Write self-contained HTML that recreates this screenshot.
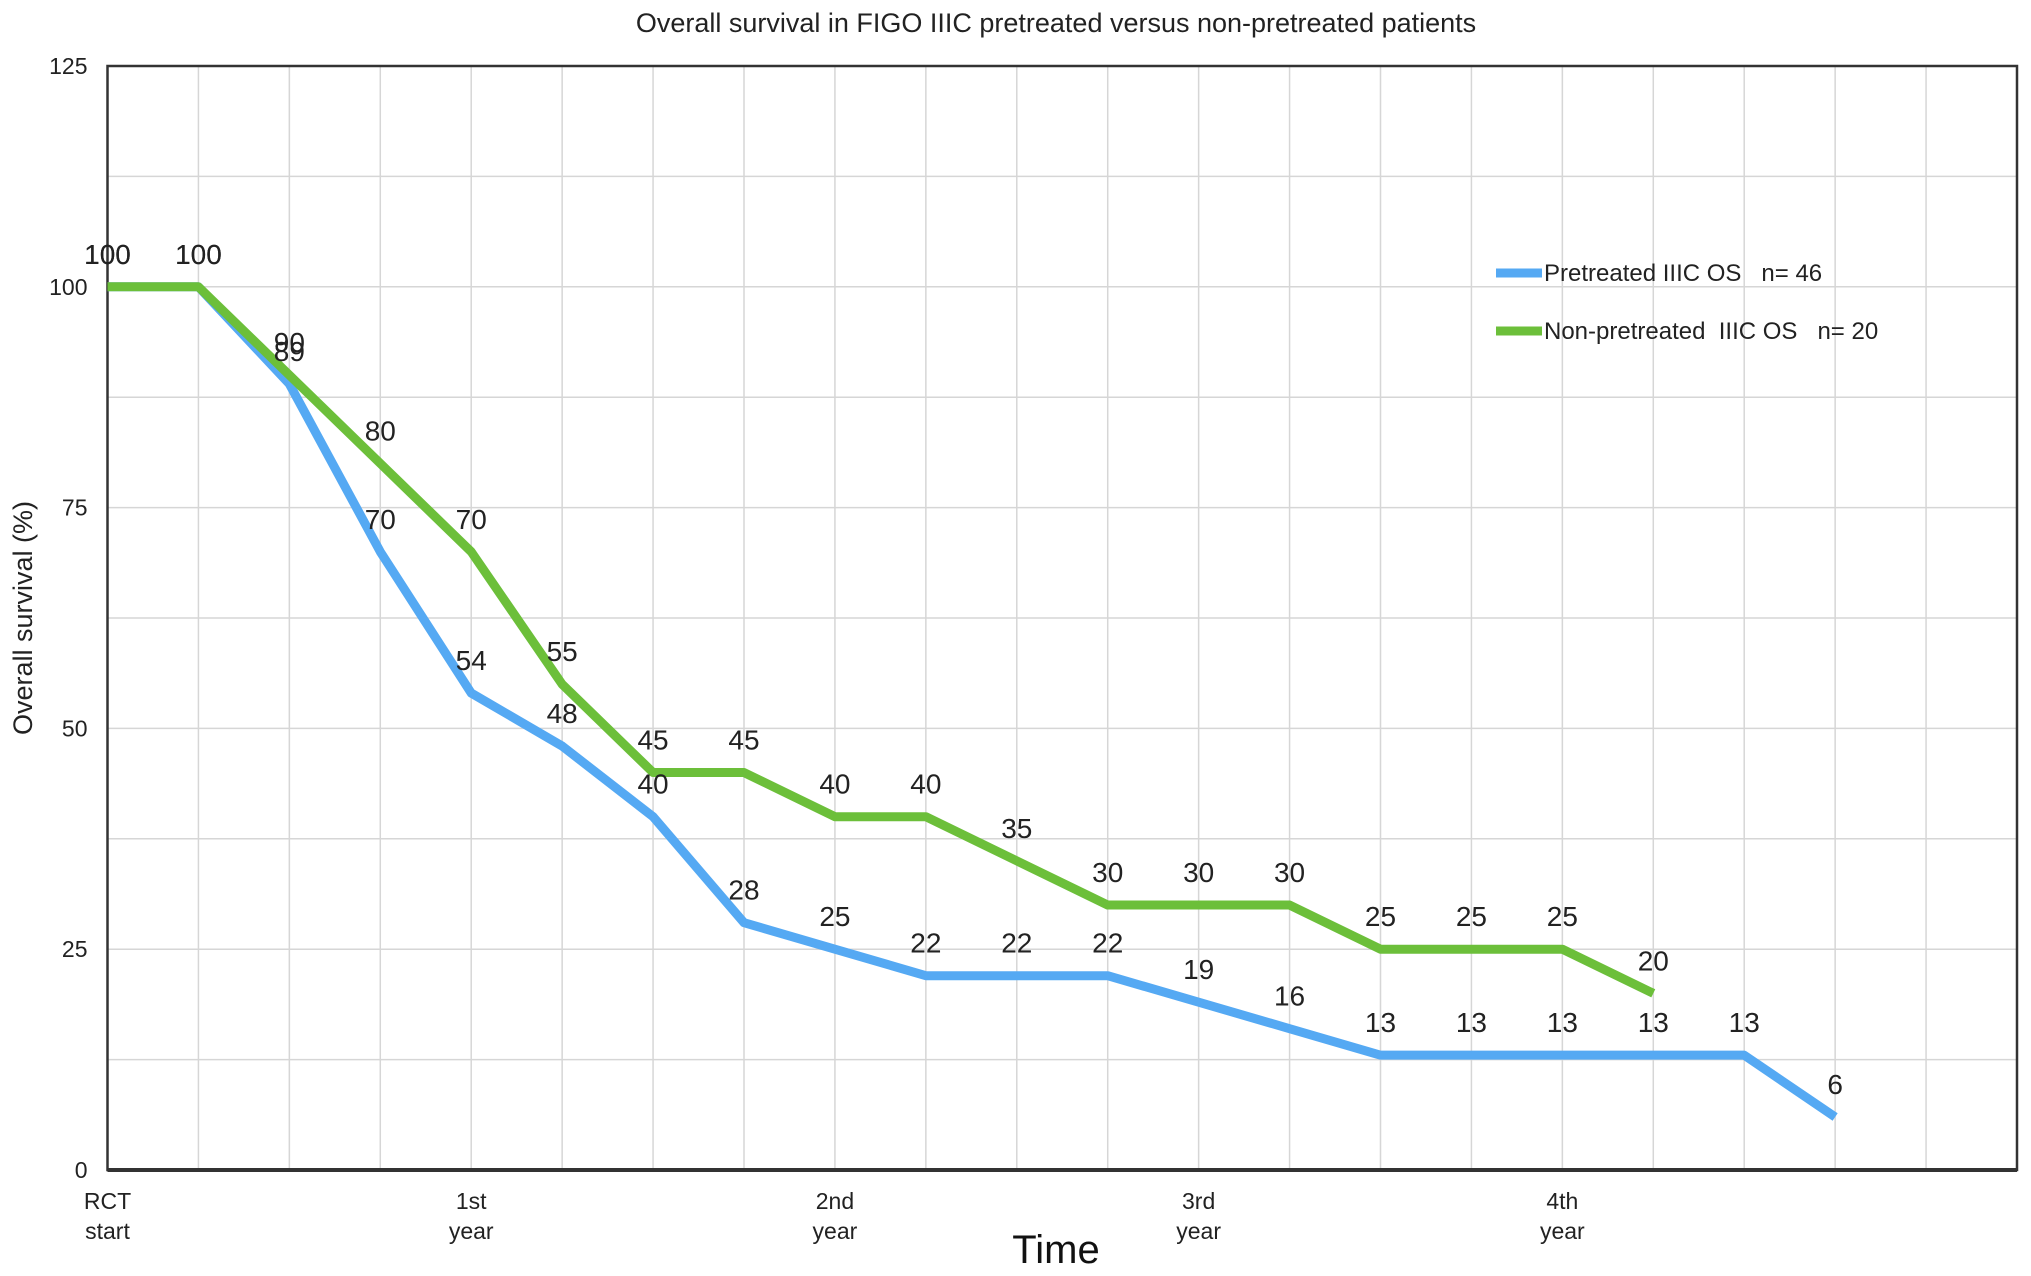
<!DOCTYPE html>
<html><head><meta charset="utf-8"><style>
html,body{margin:0;padding:0;background:#fff;}
svg{display:block;font-family:"Liberation Sans",Arial,sans-serif;}
</style></head><body>
<svg id="chart" width="2031" height="1276" viewBox="0 0 2031 1276">
<text x="1056" y="32" font-size="27" text-anchor="middle" fill="#222">Overall survival in FIGO IIIC pretreated versus non-pretreated patients</text>
<text transform="translate(32,618) rotate(-90)" font-size="27" text-anchor="middle" fill="#222">Overall survival (%)</text>
<text x="1056" y="1263" font-size="40" text-anchor="middle" fill="#111">Time</text>
<g id="grid"></g>
<g id="axes"></g>
<g id="series"></g>
<g id="labels"></g>
<g>
<line x1="1496" y1="273" x2="1542" y2="273" stroke="#55a9f3" stroke-width="9"/>
<text x="1544" y="281" font-size="24" fill="#222" xml:space="preserve">Pretreated IIIC OS   n= 46</text>
<line x1="1496" y1="331" x2="1542" y2="331" stroke="#6cbf3a" stroke-width="9"/>
<text x="1544" y="339" font-size="24" fill="#222" xml:space="preserve">Non-pretreated  IIIC OS   n= 20</text>
</g>
</svg>
<script>
const yTicks = [0, 25, 50, 75, 100, 125];
const xTickIdx = [0, 4, 8, 12, 16];
const xTickLabels = [["RCT","start"],["1st","year"],["2nd","year"],["3rd","year"],["4th","year"]];
const pretreated = [100,100,89,70,54,48,40,28,25,22,22,22,19,16,13,13,13,13,13,6];
const nonPretreated = [100,100,90,80,70,55,45,45,40,40,35,30,30,30,25,25,25,20];
const nSlots = 21;

const L = 107.5, R = 2017, T = 66, B = 1170;
const NS = 'http://www.w3.org/2000/svg';
const xs = i => L + (R - L) * i / nSlots;
const ys = v => B - (B - T) * v / 125;
function mk(tag, attrs, parent){const e=document.createElementNS(NS,tag);for(const k in attrs)e.setAttribute(k,attrs[k]);parent.appendChild(e);return e;}
const grid=document.getElementById('grid'), axes=document.getElementById('axes'), series=document.getElementById('series'), labels=document.getElementById('labels');
for(let i=1;i<nSlots;i++){
  const g=mk('line',{x1:xs(i),x2:xs(i),y1:T,y2:B,stroke:'#d6d6d6','stroke-width':1.5},grid);
  
  
}
for(let v=12.5;v<125;v+=12.5){
  const g=mk('line',{x1:L,x2:R,y1:ys(v),y2:ys(v),stroke:'#d6d6d6','stroke-width':1.5},grid);
  
  
}
const box=mk('rect',{x:L,y:T,width:R-L,height:B-T,fill:'none',stroke:'#333','stroke-width':2.5},axes);


const xa=mk('line',{x1:L,x2:R,y1:B,y2:B,stroke:'#333','stroke-width':4},axes);


yTicks.forEach(v=>{
  const t=mk('text',{x:L-20,y:ys(v)+8,'font-size':23,'text-anchor':'end',fill:'#222'},axes);
  t.textContent=v;
  
  
});
xTickIdx.forEach((idx,k)=>{
  xTickLabels[k].forEach((s,j)=>{
    const t=mk('text',{x:xs(idx),y:1209+j*30,'font-size':23,'text-anchor':'middle',fill:'#222'},axes);
    t.textContent=s;
    
    
  });
});
function draw(data,color,name){
  const pts=data.map((v,i)=>xs(i)+','+ys(v)).join(' ');
  const pl=mk('polyline',{points:pts,fill:'none',stroke:color,'stroke-width':9,'stroke-linejoin':'round'},series);
  
  
  data.forEach((v,i)=>{
    const t=mk('text',{x:xs(i),y:ys(v)-23,'font-size':28,'text-anchor':'middle',fill:'#222'},labels);
    t.textContent=v;
    
    
  });
}
draw(pretreated,'#55a9f3','pretreated');
draw(nonPretreated,'#6cbf3a','non-pretreated');
</script>
</body></html>
